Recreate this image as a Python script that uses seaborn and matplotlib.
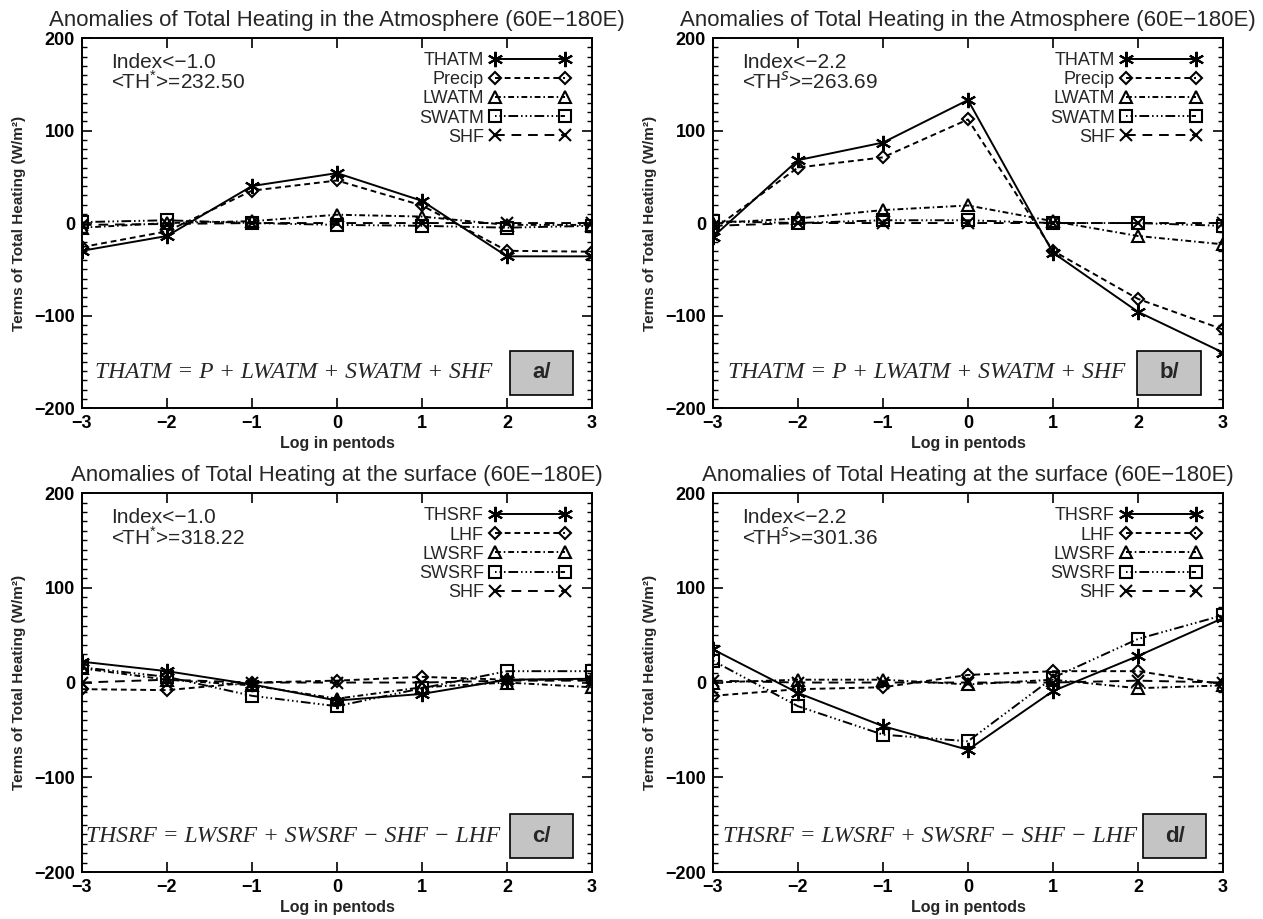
import matplotlib
matplotlib.use('Agg')
import matplotlib.pyplot as plt
import seaborn as sns
from matplotlib.patches import Rectangle
from matplotlib.ticker import MultipleLocator

# lag axis (pentads)
lags = [-3, -2, -1, 0, 1, 2, 3]

# a/ atmosphere, Index<-1.0
a_thatm = [-30, -14, 40, 54, 24, -36, -36]
a_precip = [-26, -9, 35, 46, 19, -30, -31]
a_lwatm = [-5, 0, 2, 9, 7, -2, -2]
a_swatm = [1, 3, 0, -2, -3, -5, -3]
a_shf = [-2, -1, 0, 0, 0, 0, 0]

# b/ atmosphere, Index<-2.2
b_thatm = [-15, 68, 87, 133, -32, -96, -140]
b_precip = [-7, 60, 71, 112, -30, -82, -115]
b_lwatm = [0, 5, 14, 19, 2, -14, -23]
b_swatm = [2, 0, 3, 3, 0, 0, -3]
b_shf = [-3, 0, 0, 0, 0, 0, 0]

# c/ surface, Index<-1.0
c_thsrf = [22, 12, -2, -19, -12, 3, 4]
c_lhf = [-7, -8, 0, 2, 6, 3, 3]
c_lwsrf = [15, 3, -3, -17, -5, 0, -5]
c_swsrf = [16, 6, -14, -25, -6, 12, 12]
c_shf = [0, 3, 0, 0, 0, 2, 2]

# d/ surface, Index<-2.2
d_thsrf = [35, -11, -46, -71, -9, 28, 68]
d_lhf = [-14, -7, -5, 8, 12, 12, -2]
d_lwsrf = [0, 3, 3, -2, 3, -6, -3]
d_swsrf = [23, -25, -55, -62, 5, 46, 71]
d_shf = [2, 0, 0, 0, 0, 2, 0]

atm_names = ['THATM', 'Precip', 'LWATM', 'SWATM', 'SHF']
srf_names = ['THSRF', 'LHF', 'LWSRF', 'SWSRF', 'SHF']

title_atm = 'Anomalies of Total Heating in the Atmosphere (60E\u2212180E)'
title_srf = 'Anomalies of Total Heating at the surface (60E\u2212180E)'
eq_atm = 'THATM = P + LWATM + SWATM + SHF'
eq_srf = 'THSRF = LWSRF + SWSRF \u2212 SHF \u2212 LHF'

sns.set_theme(style='ticks')
plt.rcParams['font.family'] = ['Liberation Sans', 'DejaVu Sans']
plt.rcParams['mathtext.fontset'] = 'custom'
plt.rcParams['mathtext.rm'] = 'Liberation Sans'
plt.rcParams['axes.edgecolor'] = 'black'
plt.rcParams['xtick.color'] = 'black'
plt.rcParams['ytick.color'] = 'black'

# (marker, linestyle, markersize) for the 5 terms, same order as the names
line_styles = [
    ((6, 2, 0), '-', 11),
    ('D', (0, (3, 2)), 6.5),
    ('^', (0, (3, 1.5, 0.8, 1.5)), 9),
    ('s', (0, (0.8, 1.5, 0.8, 1.5, 0.8, 1.5, 5, 1.5)), 9),
    ('x', (0, (5, 3.5)), 9),
]


def draw_panel(ax, names, series, title, idx_txt, th_txt, eq_txt, tag, eq_x, box_x):
    for name, vals, (mk, ls, ms) in zip(names, series, line_styles):
        sns.lineplot(x=lags, y=vals, ax=ax, color='black', marker=mk, linestyle=ls,
                     markersize=ms, markerfacecolor='none', markeredgecolor='black',
                     markeredgewidth=1.5, linewidth=1.4, label=name, legend=False)

    ax.set_xlim(-3, 3)
    ax.set_ylim(-200, 200)
    ax.set_xticks(lags)
    ax.set_yticks([-200, -100, 0, 100, 200])
    ax.yaxis.set_minor_locator(MultipleLocator(10))
    ax.tick_params(which='major', direction='in', top=True, right=True,
                   length=7, width=1.2, labelsize=13, pad=5)
    ax.tick_params(which='minor', direction='in', left=True, right=True,
                   length=3.5, width=1)
    for lbl in ax.get_xticklabels() + ax.get_yticklabels():
        lbl.set_fontweight('bold')
    for sp in ax.spines.values():
        sp.set_linewidth(1.4)
        sp.set_color('black')

    ax.set_title(title, fontsize=16, pad=9)
    ax.set_xlabel('Log in pentods', fontsize=11.5, fontweight='bold', labelpad=3)
    ax.set_ylabel('Terms of Total Heating (W/m\u00b2)', fontsize=11, fontweight='bold', labelpad=6)

    ax.text(0.057, 0.935, idx_txt, transform=ax.transAxes, fontsize=15, va='center')
    ax.text(0.057, 0.882, th_txt, transform=ax.transAxes, fontsize=15, va='center')

    ax.legend(handles=ax.get_lines()[:5], labels=names, loc='upper right',
              bbox_to_anchor=(0.958, 0.962), markerfirst=False, numpoints=2,
              handlelength=4.5, handletextpad=0.3, labelspacing=0.12,
              frameon=False, fontsize=13, borderaxespad=0, borderpad=0)

    ax.text(eq_x, 0.095, eq_txt, transform=ax.transAxes, family='Liberation Serif',
            style='italic', fontsize=17, va='center', ha='left')
    ax.add_patch(Rectangle((box_x, 0.036), 0.124, 0.118, transform=ax.transAxes,
                           facecolor='#c4c4c4', edgecolor='black', lw=1.2, zorder=5))
    ax.text(box_x + 0.062, 0.095, tag, transform=ax.transAxes, fontsize=16,
            fontweight='bold', ha='center', va='center', zorder=6)


fig = plt.figure(figsize=(12.63, 9.19), dpi=100)
ax_a = fig.add_axes([0.0649, 0.556, 0.4038, 0.4026])
ax_b = fig.add_axes([0.5645, 0.556, 0.4038, 0.4026])
ax_c = fig.add_axes([0.0649, 0.0511, 0.4038, 0.4124])
ax_d = fig.add_axes([0.5645, 0.0511, 0.4038, 0.4124])

draw_panel(ax_a, atm_names, [a_thatm, a_precip, a_lwatm, a_swatm, a_shf], title_atm,
           'Index<\u22121.0', r'<TH$^{*}$>=232.50', eq_atm, 'a/', 0.025, 0.839)
draw_panel(ax_b, atm_names, [b_thatm, b_precip, b_lwatm, b_swatm, b_shf], title_atm,
           'Index<\u22122.2', r'<TH$^{s}$>=263.69', eq_atm, 'b/', 0.029, 0.832)
draw_panel(ax_c, srf_names, [c_thsrf, c_lhf, c_lwsrf, c_swsrf, c_shf], title_srf,
           'Index<\u22121.0', r'<TH$^{*}$>=318.22', eq_srf, 'c/', 0.008, 0.839)
draw_panel(ax_d, srf_names, [d_thsrf, d_lhf, d_lwsrf, d_swsrf, d_shf], title_srf,
           'Index<\u22122.2', r'<TH$^{s}$>=301.36', eq_srf, 'd/', 0.02, 0.843)

fig.savefig('out.png', dpi=100)
